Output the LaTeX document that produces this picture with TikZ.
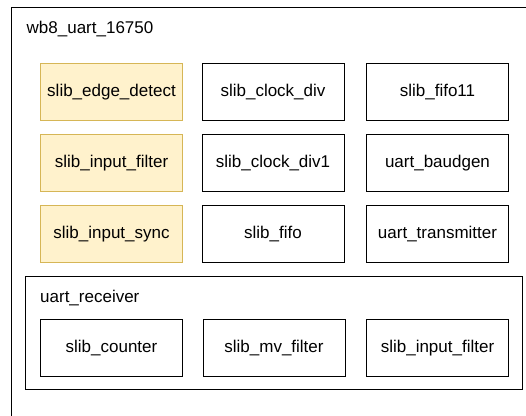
\documentclass[tikz,border=0pt]{standalone}
\usepackage{fontspec}
\setmainfont{Liberation Sans}
\definecolor{hlfill}{HTML}{FFF2CC}
\definecolor{hldraw}{HTML}{D6B656}
\begin{document}
\begin{tikzpicture}[x=1pt,y=-1pt,
  blk/.style={draw=black, line width=1pt, fill=white, minimum width=142pt, minimum height=57pt,
    inner sep=0pt, font=\fontsize{17}{20}\selectfont, anchor=north west},
  hl/.style={blk, fill=hlfill, draw=hldraw},
  grp/.style={draw=black, line width=1pt},
  lbl/.style={anchor=base west, inner sep=0pt, font=\fontsize{17}{20}\selectfont}]
  \useasboundingbox (0,0) rectangle (526,415);
  \clip (0,0) rectangle (526,415);
  % top-level module frame (runs past the page edge)
  \draw[grp] (11.5,7) rectangle (545,440);
  \node[lbl] (top) at (26.5,33) {wb8\_uart\_16750};
  % first three rows of submodules
  \node[hl]  (edge)  at (40,63)   {slib\_edge\_detect};
  \node[blk] (cdiv)  at (201.5,63) {slib\_clock\_div};
  \node[blk] (f11)   at (366,63)  {slib\_fifo11};
  \node[hl]  (ifilt) at (40,134)  {slib\_input\_filter};
  \node[blk] (cdiv1) at (201.5,134) {slib\_clock\_div1};
  \node[blk] (baud)  at (366,134) {uart\_baudgen};
  \node[hl]  (isync) at (40,205)  {slib\_input\_sync};
  \node[blk] (fifo)  at (201.5,205) {slib\_fifo};
  \node[blk] (tx)    at (366,205) {uart\_transmitter};
  % receiver group
  \draw[grp] (25,276) rectangle (522.5,389);
  \node[lbl] (rx) at (40,302) {uart\_receiver};
  \node[blk] (cnt)   at (40,319)  {slib\_counter};
  \node[blk] (mv)    at (202.5,319) {slib\_mv\_filter};
  \node[blk] (rfilt) at (366,319) {slib\_input\_filter};
\end{tikzpicture}
\end{document}
